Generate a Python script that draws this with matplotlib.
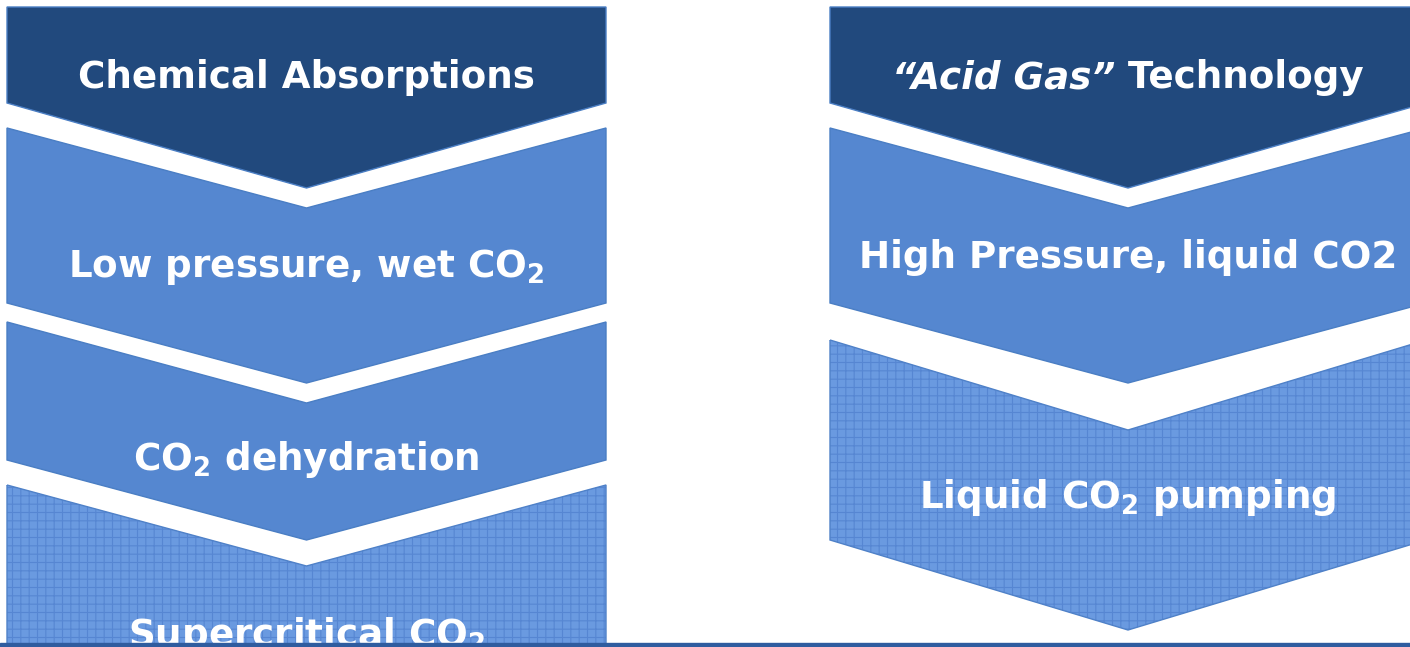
import matplotlib
matplotlib.use('Agg')
import matplotlib.pyplot as plt
from matplotlib.patches import Polygon

plt.rcParams['mathtext.default'] = 'regular'
plt.rcParams['hatch.linewidth'] = 0.8

# steps of the two process columns
left_labels = ['Chemical Absorptions', r'Low pressure, wet CO$_2$',
               r'CO$_2$ dehydration', r'Supercritical CO$_2$']
right_labels = ['', 'High Pressure, liquid CO2', r'Liquid CO$_2$ pumping']
right_title_italic = '\u201cAcid Gas\u201d'
right_title_rest = ' Technology'

# layout (pixels): top y, notch depth, side bottom y, point depth, label y
left_top = [7, 128, 322, 485]
left_notch = [0, 80, 81, 81]
left_bottom = [103, 303, 460, 720]
left_point = [85, 80, 80, 80]
left_text_y = [78, 267, 460, 636]

right_top = [7, 128, 340]
right_notch = [0, 80, 90]
right_bottom = [103, 303, 540]
right_point = [85, 80, 90]
right_text_y = [78, 258, 497]

dark = '#21497d'
mid = '#5587d0'
hatch_base = '#6a9ae0'
hatch_col = '#5686d2'
styles_left = ['dark', 'mid', 'mid', 'hatch']
styles_right = ['dark', 'mid', 'hatch']
fs = 26.8

fig = plt.figure(figsize=(14.1, 6.47), dpi=100)
ax = fig.add_axes([0, 0, 1, 1])
ax.set_xlim(0, 1410)
ax.set_ylim(647, 0)
ax.axis('off')


def chevron(x0, x1, top, notch, bottom, point, style):
    xc = (x0 + x1) / 2
    pts = [(x0, top), (xc, top + notch), (x1, top), (x1, bottom),
           (xc, bottom + point), (x0, bottom)]
    if style == 'hatch':
        ax.add_patch(Polygon(pts, closed=True, facecolor=hatch_base, edgecolor='none', zorder=1))
        ax.add_patch(Polygon(pts, closed=True, facecolor='none', edgecolor=hatch_col,
                             hatch='++', lw=0, zorder=2))
        ax.add_patch(Polygon(pts, closed=True, facecolor='none', edgecolor='#4f81c8', lw=1, zorder=3))
    else:
        fc = dark if style == 'dark' else mid
        ax.add_patch(Polygon(pts, closed=True, facecolor=fc, edgecolor='#4a7ec4', lw=1, zorder=1))


for i in range(len(left_labels)):
    chevron(7, 606, left_top[i], left_notch[i], left_bottom[i], left_point[i], styles_left[i])
    ax.text(306.5, left_text_y[i], left_labels[i], color='white', fontsize=fs,
            fontweight='bold', ha='center', va='center', zorder=5)

for i in range(len(right_labels)):
    chevron(830, 1426, right_top[i], right_notch[i], right_bottom[i], right_point[i], styles_right[i])
    if right_labels[i]:
        ax.text(1128, right_text_y[i], right_labels[i], color='white', fontsize=fs,
                fontweight='bold', ha='center', va='center', zorder=5)

# mixed italic / normal title on the right
r = fig.canvas.get_renderer()
t1 = ax.text(0, right_text_y[0], right_title_italic, color='white', fontsize=fs,
             fontweight='bold', fontstyle='italic', ha='left', va='center', zorder=5)
t2 = ax.text(0, right_text_y[0], right_title_rest, color='white', fontsize=fs,
             fontweight='bold', ha='left', va='center', zorder=5)
w1 = t1.get_window_extent(r).width
w2 = t2.get_window_extent(r).width
start = 1128 - (w1 + w2) / 2
t1.set_x(start)
t2.set_x(start + w1)

# bottom rule
ax.axhspan(643, 647, color='#2f5c9f', zorder=10)

fig.savefig('out.png', dpi=100)
